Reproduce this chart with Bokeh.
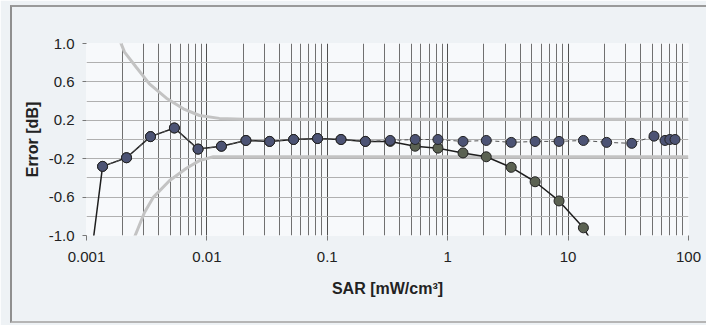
from bokeh.plotting import figure
from bokeh.models import Range1d, FixedTicker, CustomJSTickFormatter, InlineStyleSheet
from bokeh.embed import file_html
from bokeh.resources import INLINE

# ---- data ----
sar_lin = [0.00136, 0.00215, 0.0034, 0.00537, 0.00845, 0.0132, 0.0211, 0.0332, 0.0525,
           0.083, 0.130, 0.207, 0.333, 0.537, 0.83, 1.34, 2.09, 3.37, 5.32, 8.41, 13.4,
           20.9, 33.8, 51.7, 63.8, 70.0, 77.3]
err_lin = [-0.28, -0.19, 0.03, 0.12, -0.10, -0.07, -0.01, -0.02, 0.0,
           0.01, 0.0, -0.02, -0.01, 0.0, 0.0, -0.02, -0.01, -0.03, -0.02, -0.02, -0.01,
           -0.03, -0.04, 0.035, -0.01, 0.0, 0.0]

sar_sat = [0.001, 0.00136, 0.00215, 0.0034, 0.00537, 0.00845, 0.0132, 0.0211, 0.0332,
           0.0525, 0.083, 0.130, 0.207, 0.333, 0.537, 0.83, 1.34, 2.09, 3.37, 5.32,
           8.41, 13.4, 20.9]
err_sat = [-1.6, -0.28, -0.19, 0.03, 0.12, -0.10, -0.07, -0.01, -0.02,
           0.0, 0.01, 0.0, -0.02, -0.02, -0.07, -0.09, -0.14, -0.18, -0.29, -0.44,
           -0.64, -0.92, -1.32]

up_sar = [0.00188, 0.00207, 0.0026, 0.00333, 0.00461, 0.00638, 0.00867, 0.0127, 0.02, 100]
up_err = [1.04, 0.91, 0.75, 0.58, 0.43, 0.32, 0.25, 0.22, 0.21, 0.21]
lo_sar = [0.0025, 0.00303, 0.0036, 0.00488, 0.00676, 0.00867, 0.0113, 0.02, 100]
lo_err = [-1.02, -0.76, -0.60, -0.43, -0.30, -0.22, -0.18, -0.18, -0.18]

x_ticks = [0.001, 0.01, 0.1, 1, 10, 100]
y_ticks = [-1.0, -0.6, -0.2, 0.2, 0.6, 1.0]
y_minor = [-0.8, -0.4, 0.0, 0.4, 0.8]

FONT = "Liberation Sans"

p = figure(width=706, height=325, x_axis_type="log",
           x_range=Range1d(0.001, 100), y_range=Range1d(-1.0, 1.0),
           output_backend="svg", toolbar_location=None,
           min_border_left=86, min_border_right=18, min_border_top=43, min_border_bottom=90)
p.background_fill_color = "#f7f9fb"
p.border_fill_color = "#eef2f5"
p.outline_line_color = None

x_minor = [d * k for d in x_ticks[:-1] for k in range(2, 10)]
p.xaxis.ticker = FixedTicker(ticks=x_ticks, minor_ticks=x_minor)
p.xaxis.formatter = CustomJSTickFormatter(code="return tick.toString();")
p.yaxis.ticker = FixedTicker(ticks=y_ticks, minor_ticks=y_minor)
p.yaxis.formatter = CustomJSTickFormatter(code="return tick.toFixed(1);")

for ax in (p.xaxis[0], p.yaxis[0]):
    ax.axis_line_color = None
    ax.major_tick_line_color = "#777"
    ax.major_tick_in = 0
    ax.minor_tick_line_color = None
    ax.major_label_text_font = FONT
    ax.major_label_text_font_size = "15px"
    ax.major_label_text_color = "#222"
    ax.axis_label_text_font = FONT
    ax.axis_label_text_font_size = "16px"
    ax.axis_label_text_font_style = "bold"
    ax.axis_label_text_color = "#222"

p.xaxis.major_tick_out = 5
p.xaxis.major_label_standoff = 11
p.xaxis.axis_label = "SAR [mW/cm³]"
p.xaxis.axis_label_standoff = 15
p.yaxis.major_tick_out = 4
p.yaxis.major_label_standoff = 8
p.yaxis.axis_label = "Error [dB]"
p.yaxis.axis_label_standoff = 5

p.xgrid.grid_line_color = "#505050"
p.xgrid.grid_line_width = 1
p.xgrid.minor_grid_line_color = "#707070"
p.xgrid.minor_grid_line_width = 1
p.ygrid.grid_line_color = "#b0b0b0"
p.ygrid.minor_grid_line_color = "#b0b0b0"

# limit curves
p.line(up_sar, up_err, line_color="#c3c3c3", line_width=3)
p.line(lo_sar, lo_err, line_color="#c3c3c3", line_width=3)

# series lines
p.line(sar_sat, err_sat, line_color="#1e1e1e", line_width=1.5)
p.line(sar_lin, err_lin, line_color="#555555", line_width=1, line_dash="4 3")

# markers
p.scatter(sar_sat, err_sat, size=10, fill_color="#5b6252", line_color="#222", line_width=1)
p.scatter(sar_lin, err_lin, size=10, fill_color="#4c5374", line_color="#222", line_width=1)

# outer chart frame (left, top, bottom edges) drawn over the canvas
p.stylesheets = [InlineStyleSheet(css="""
:host::after {
  content: '';
  position: absolute;
  left: 10px; top: 5px;
  width: 696px; height: 318px;
  box-sizing: border-box;
  border-left: 2px solid #8f8f8f;
  border-top: 2px solid #9a9a9a;
  border-bottom: 2px solid #b5b5b5;
  pointer-events: none;
}
""")]

open("out.html", "w").write(file_html(p, INLINE))
